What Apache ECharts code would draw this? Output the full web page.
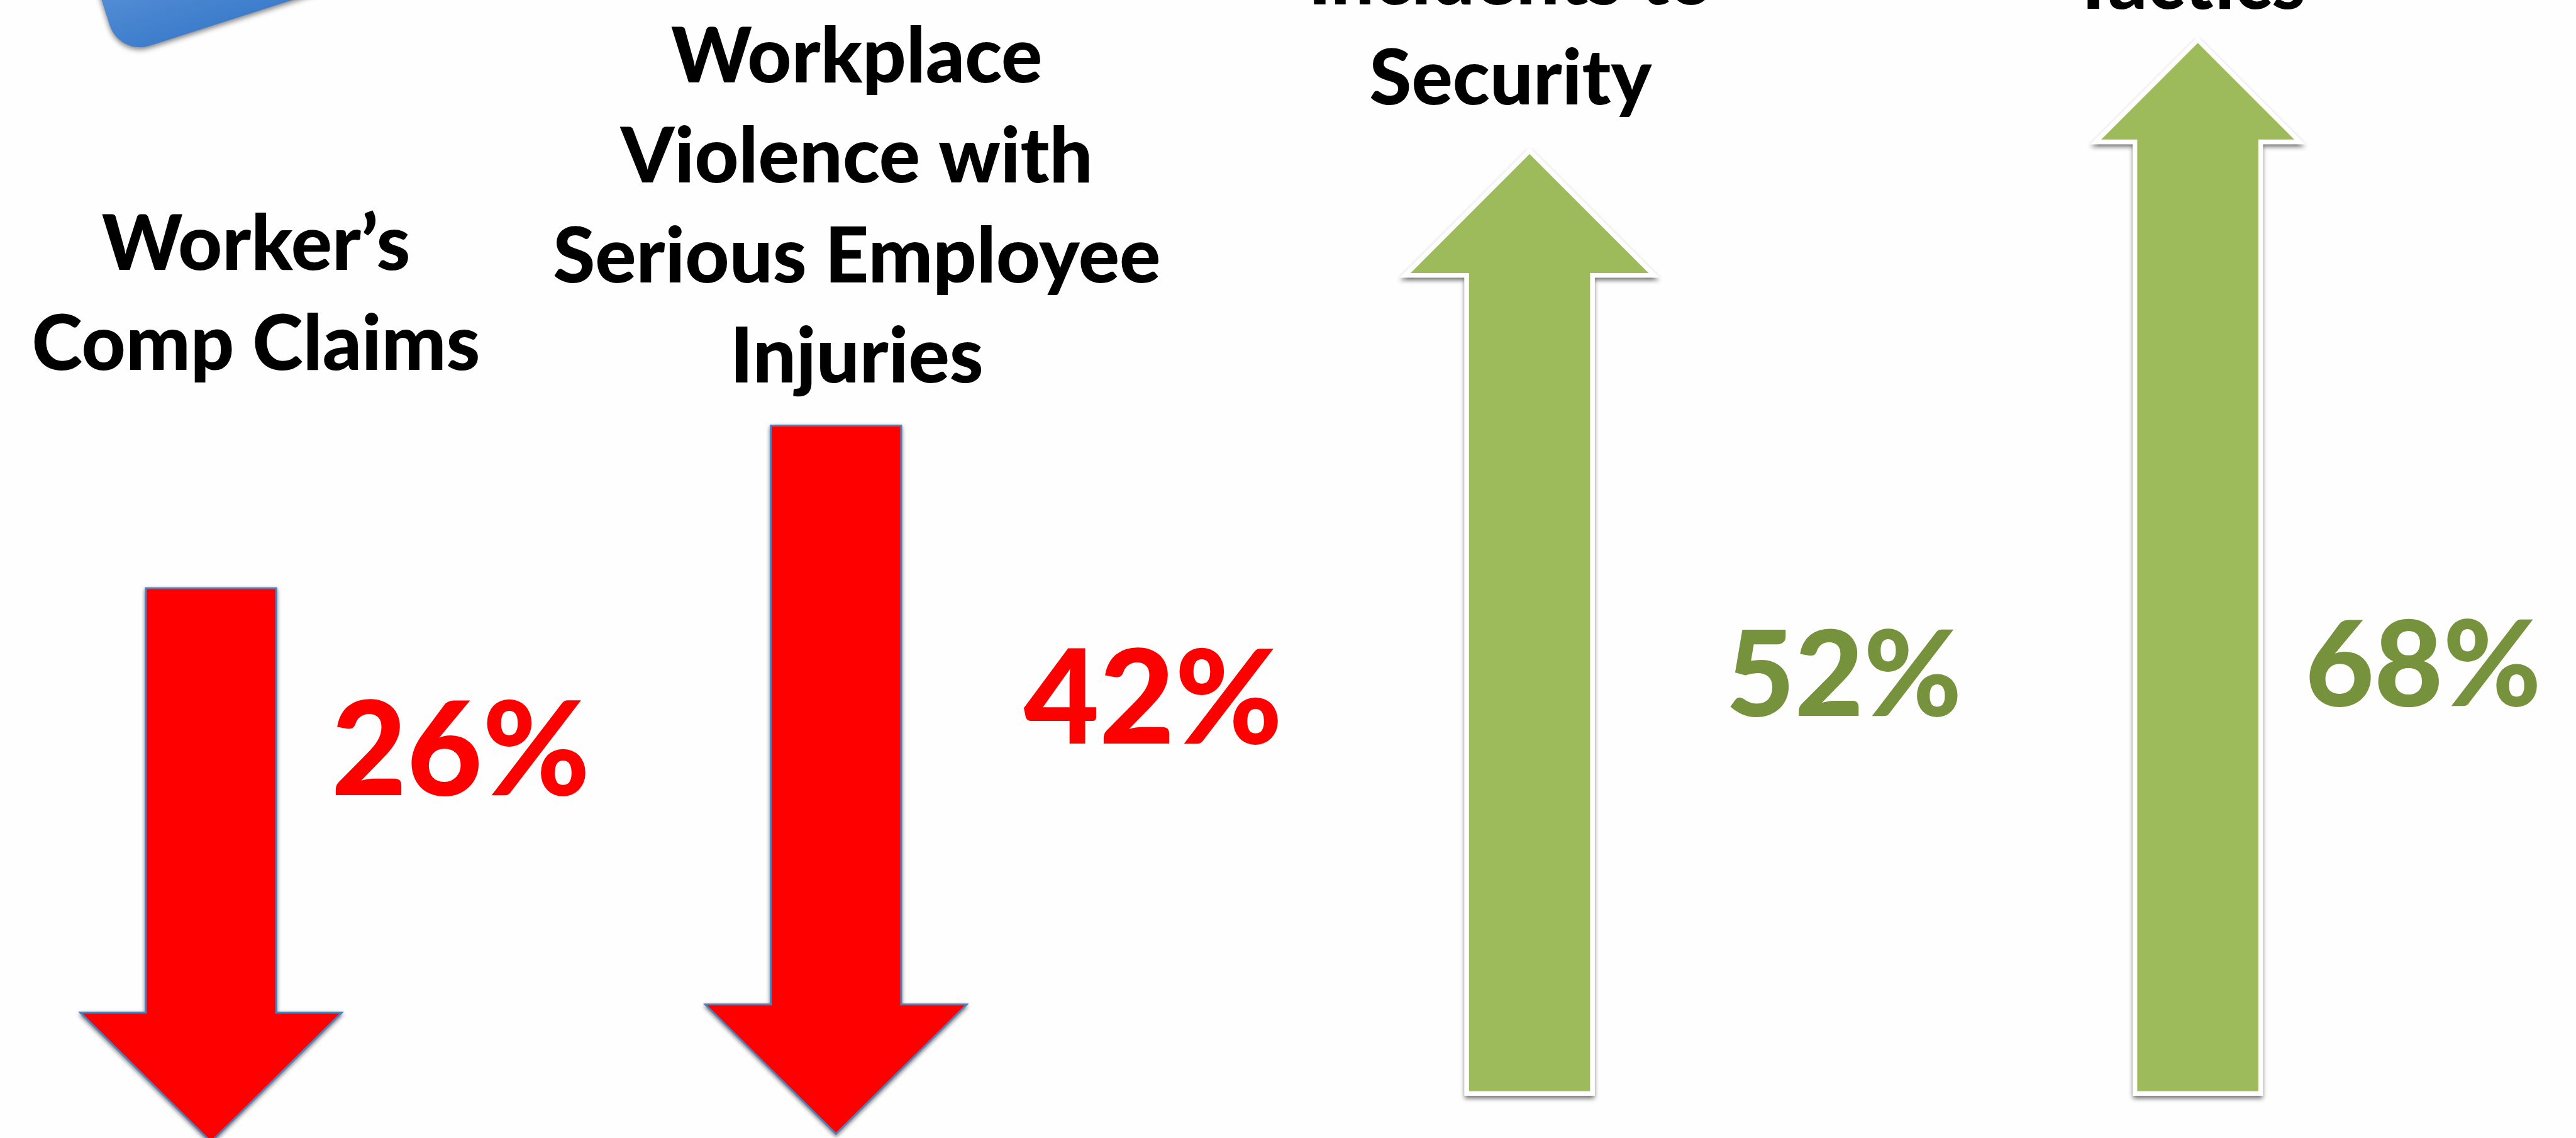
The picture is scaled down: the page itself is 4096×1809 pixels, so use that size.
<!DOCTYPE html>
<html>
<head>
<meta charset="utf-8">
<title>Workplace safety outcomes</title>
<style>
  html, body { margin: 0; padding: 0; background: #fefefe; overflow: hidden; }
  #chart { width: 4096px; height: 1809px; }
</style>
<script src="https://cdn.jsdelivr.net/npm/echarts@6/dist/echarts.min.js"></script>
</head>
<body>
<div id="chart"></div>
<script>
// Outcome groups: decreases are drawn as red arrows, increases as green ones.
const decreaseCategories = ["Worker’s\nComp Claims", "Workplace\nViolence with\nSerious Employee\nInjuries"];
const decreaseValues = [26, 42];
const increaseCategories = ["Incidents to\nSecurity", "Tactics"];
const increaseValues = [52, 68];

// Drawing units: one unit is one pixel of the 4468-wide layout.
const S = 4096 / 4468;
const FONT = 'Lato, Carlito, "Open Sans", sans-serif';

const decreaseStyle = {
  // Arrow tips sit on the axis minimum; each arrow can be nudged down slightly.
  nudge: [14, 0],
  shaftHalf: 113,
  headHalf: [226.5, 226.5],
  headHeight: [224, 224],
  fill: '#ff0000',
  stroke: '#4f81bd',
  strokeWidth: 3,
  shadow: { shadowColor: 'rgba(0,0,0,0.45)', shadowBlur: 7 * S, shadowOffsetY: 3 * S },
  pctColor: '#ff0000',
  pctSize: 226,
  pctDx: [433, 550],
  pctBase: [1384, 1294],
  titleDx: [78, 36],
  titleBase: [644, 666]
};

const increaseStyle = {
  nudge: [0, 0],
  shaftHalf: 109,
  headHalf: [216, 177],
  headHeight: [216, 177],
  fill: '#9dbb5a',
  stroke: '#ffffff',
  strokeWidth: 8,
  shadow: { shadowColor: 'rgba(0,0,0,0.42)', shadowBlur: 8 * S, shadowOffsetY: 5 * S },
  pctColor: '#76923c',
  pctSize: 206,
  pctDx: [545, 391],
  pctBase: [1246, 1228],
  titleDx: [-33, -17],
  titleBase: [184, 18]
};

const TITLE_SIZE = 133;
const TITLE_PITCH = 173.5;

// Text lines are placed one by one so the line pitch stays exact.
function textEl(text, x, baseline, size, color) {
  return {
    type: 'text',
    silent: true,
    style: {
      text: text,
      x: x,
      y: (baseline - size * 0.345) * S,
      fill: color,
      font: '900 ' + (size * S) + 'px ' + FONT,
      textAlign: 'center',
      textVerticalAlign: 'middle'
    }
  };
}

function arrowRenderer(names, cfg, axisMin, pointsDown) {
  return function (params, api) {
    const i = api.value(0);
    const v = api.value(1);
    const base = api.coord([i, axisMin]);
    const end = api.coord([i, v]);
    const cx = base[0];
    const dy = cfg.nudge[i] * S;
    const yBase = base[1] + dy;
    const yEnd = end[1] + dy;
    const sh = cfg.shaftHalf * S;
    const hh = cfg.headHalf[i] * S;
    const hl = cfg.headHeight[i] * S;
    // Down arrows keep the tip at the base; up arrows keep the tail at the base.
    const pts = pointsDown
      ? [[cx - sh, yEnd], [cx + sh, yEnd], [cx + sh, yBase - hl], [cx + hh, yBase - hl],
         [cx, yBase], [cx - hh, yBase - hl], [cx - sh, yBase - hl]]
      : [[cx - sh, yBase], [cx + sh, yBase], [cx + sh, yEnd + hl], [cx + hh, yEnd + hl],
         [cx, yEnd], [cx - hh, yEnd + hl], [cx - sh, yEnd + hl]];

    const outline = {
      fill: cfg.fill,
      stroke: cfg.stroke,
      lineWidth: cfg.strokeWidth * S,
      lineJoin: 'miter',
      miterLimit: 10
    };

    // The shadow goes on a backing copy so the stroke casts none onto the fill.
    const children = [
      { type: 'polygon', silent: true, shape: { points: pts }, style: Object.assign({}, outline, cfg.shadow) },
      { type: 'polygon', silent: true, shape: { points: pts }, style: outline }
    ];

    children.push(textEl(v + '%', cx + cfg.pctDx[i] * S, cfg.pctBase[i], cfg.pctSize, cfg.pctColor));

    const lines = names[i].split('\n');
    lines.forEach(function (line, n) {
      const baseline = cfg.titleBase[i] - (lines.length - 1 - n) * TITLE_PITCH;
      children.push(textEl(line, cx + cfg.titleDx[i] * S, baseline, TITLE_SIZE, '#000000'));
    });
    return { type: 'group', children: children };
  };
}

// Each group has its own hidden axes: the two categories span the grid edge to
// edge to set the arrow columns, and the value range sets how far arrows reach.
const DOWN_MIN = -31.3, DOWN_MAX = 42;
const UP_MIN = -84, UP_MAX = 68;

const option = {
  backgroundColor: '#fefefe',
  animation: false,
  tooltip: { show: false },
  graphic: [{
    // Rounded panel cut off by the top edge.
    type: 'rect',
    silent: true,
    z: 0,
    x: 207 * S,
    y: 96 * S,
    rotation: 17.75 * Math.PI / 180,
    shape: { x: 0, y: -260 * S, width: 1000 * S, height: 260 * S, r: 55 * S },
    style: {
      fill: {
        type: 'linear', x: 0, y: 0, x2: 0, y2: 1,
        colorStops: [
          { offset: 0, color: '#7aa6e4' },
          { offset: 0.72, color: '#4c87d2' },
          { offset: 1, color: '#3d7dcb' }
        ]
      },
      shadowColor: 'rgba(0,0,0,0.5)',
      shadowBlur: 9 * S,
      shadowOffsetY: 4 * S
    }
  }],
  grid: [
    { left: 366 * S, width: 1084 * S, top: 738 * S, height: 1228 * S, containLabel: false },
    { left: 2653 * S, width: 1159 * S, top: 69 * S, height: 1827 * S, containLabel: false }
  ],
  xAxis: [
    { type: 'category', boundaryGap: false, gridIndex: 0, data: decreaseCategories, show: false },
    { type: 'category', boundaryGap: false, gridIndex: 1, data: increaseCategories, show: false }
  ],
  yAxis: [
    { type: 'value', gridIndex: 0, min: DOWN_MIN, max: DOWN_MAX, show: false },
    { type: 'value', gridIndex: 1, min: UP_MIN, max: UP_MAX, show: false }
  ],
  series: [
    {
      type: 'custom',
      name: 'Decrease',
      xAxisIndex: 0,
      yAxisIndex: 0,
      clip: false,
      encode: { x: 0, y: 1 },
      data: decreaseValues.map(function (v, i) { return [i, v]; }),
      renderItem: arrowRenderer(decreaseCategories, decreaseStyle, DOWN_MIN, true)
    },
    {
      type: 'custom',
      name: 'Increase',
      xAxisIndex: 1,
      yAxisIndex: 1,
      clip: false,
      encode: { x: 0, y: 1 },
      data: increaseValues.map(function (v, i) { return [i, v]; }),
      renderItem: arrowRenderer(increaseCategories, increaseStyle, UP_MIN, false)
    }
  ]
};

const chart = echarts.init(document.getElementById('chart'), null, { renderer: 'canvas' });
chart.setOption(option);
</script>
</body>
</html>
